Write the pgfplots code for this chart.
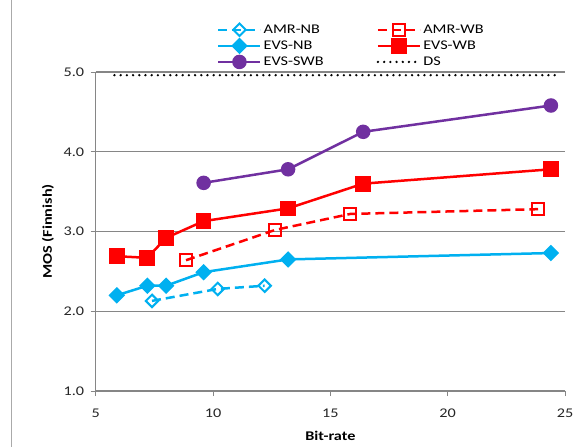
\documentclass[border=0pt]{standalone}
\usepackage{pgfplots}
\pgfplotsset{compat=1.18}
\usepackage{fontspec}
\setmainfont{Carlito}[FakeStretch=1.22]

\definecolor{evsnb}{HTML}{00B0F0}
\definecolor{evswb}{HTML}{FF0000}
\definecolor{evsswb}{HTML}{7030A0}
\definecolor{gridgray}{HTML}{868686}
\definecolor{ticktext}{HTML}{262626}

\newcommand{\chartfont}{\fontsize{13.3bp}{16bp}\selectfont}

\begin{document}
\begin{tikzpicture}[font=\chartfont]
% page extent around the plot area (plot area origin at lower left)
\path[use as bounding box] (-95.7bp,-56bp) rectangle (491.3bp,391bp);
% chart frame edge on the left
\draw[gridgray!70, line width=0.8bp] (-84.7bp,-56bp) -- (-84.7bp,391bp);
\begin{axis}[
  font=\chartfont,
  scale only axis,
  width=469.3bp, height=319bp,
  xmin=5, xmax=25, ymin=1, ymax=5,
  xtick={5,10,...,25}, ytick={1,2,3,4,5},
  axis x line*=bottom, axis y line*=left,
  axis line style={draw=gridgray, line width=0.9bp, -},
  tick style={draw=gridgray, line width=0.9bp},
  tick align=outside, major tick length=5bp,
  ymajorgrids,
  grid style={draw=gridgray, line width=1.1bp},
  /pgf/number format/assume math mode=true,
  yticklabel style={/pgf/number format/fixed,
    /pgf/number format/fixed zerofill,
    /pgf/number format/precision=1, xshift=-3bp},
  ticklabel style={text=ticktext, font=\chartfont},
  xticklabel style={yshift=-9bp},
  xlabel={\textbf{Bit-rate}},
  ylabel={\textbf{MOS (Finnish)}},
  label style={font=\chartfont},
  xlabel style={yshift=-7bp},
  ylabel style={yshift=3bp},
  legend columns=2,
  legend cell align=left,
  legend style={draw=none, fill=none, inner sep=0pt, font=\chartfont,
    at={(rel axis cs:0.2585,1.155)}, anchor=north west,
    /tikz/every even column/.append style={column sep=51bp},
    row sep=2bp},
  legend image code/.code={%
    \draw[mark repeat=2, mark phase=2, #1]
      plot coordinates {(0bp,0bp) (21bp,0bp) (42bp,0bp)};},
]
% AMR-NB
\addplot[color=evsnb, line width=2.5bp, dash pattern=on 9bp off 5bp,
  mark=square, mark size=4.4bp,
  mark options={rotate=45, solid, line width=2bp}]
  coordinates {(7.4,2.13) (10.2,2.28) (12.2,2.32)};
\addlegendentry{AMR-NB}
% AMR-WB
\addplot[color=evswb, line width=2.5bp, dash pattern=on 9bp off 5bp,
  mark=square, mark size=6.2bp,
  mark options={solid, line width=2bp}]
  coordinates {(8.85,2.64) (12.65,3.02) (15.85,3.22) (23.85,3.28)};
\addlegendentry{AMR-WB}
% EVS-NB
\addplot[color=evsnb, line width=2.5bp,
  mark=square*, mark size=4.6bp, mark options={rotate=45}]
  coordinates {(5.9,2.20) (7.2,2.32) (8.0,2.32) (9.6,2.49) (13.2,2.65) (24.4,2.73)};
\addlegendentry{EVS-NB}
% EVS-WB
\addplot[color=evswb, line width=2.5bp,
  mark=square*, mark size=6.6bp]
  coordinates {(5.9,2.69) (7.2,2.67) (8.0,2.92) (9.6,3.13) (13.2,3.29) (16.4,3.60) (24.4,3.78)};
\addlegendentry{EVS-WB}
% EVS-SWB
\addplot[color=evsswb, line width=2.5bp,
  mark=*, mark size=6bp]
  coordinates {(9.6,3.61) (13.2,3.78) (16.4,4.25) (24.4,4.58)};
\addlegendentry{EVS-SWB}
% DS
\addplot[color=black, line width=2.6bp, line cap=round,
  dash pattern=on 0bp off 6.2bp, mark=none]
  coordinates {(5.8,4.96) (24.7,4.96)};
\addlegendentry{DS}
\end{axis}
\end{tikzpicture}
\end{document}
